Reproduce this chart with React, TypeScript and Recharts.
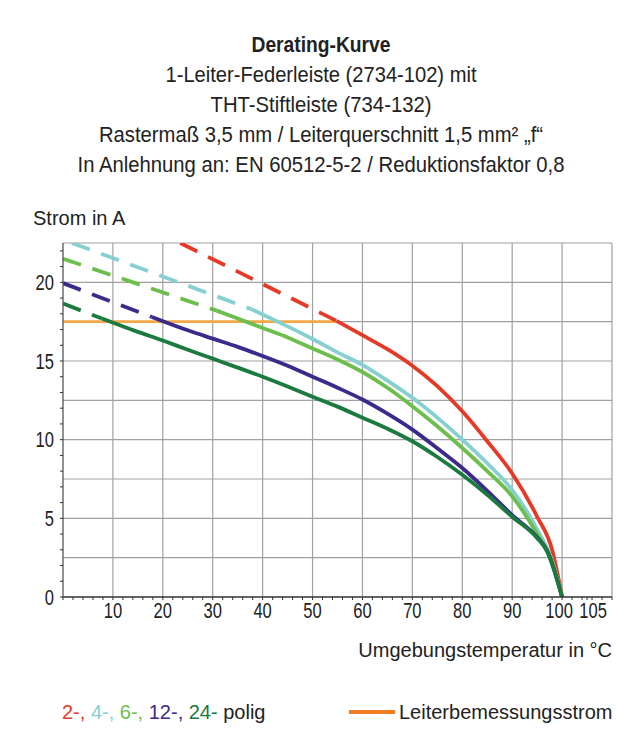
import React from 'react';
import { LineChart, Line, XAxis, YAxis, ReferenceLine } from 'recharts';

// Derating-Kurve 2734-102 / 734-132
const FONT = "'Liberation Sans', Arial, sans-serif";

const titleLines = [
  '1-Leiter-Federleiste (2734-102) mit',
  'THT-Stiftleiste (734-132)',
  'Rastermaß 3,5 mm / Leiterquerschnitt 1,5 mm² „f“',
  'In Anlehnung an: EN 60512-5-2 / Reduktionsfaktor 0,8',
];
// gemessene Breiten der Titelzeilen (px), Schrift ist schmal laufend
const titleWidths = [311, 221, 444, 487];

const xTicks = [0, 2, 4, 6, 8, 10, 12, 14, 16, 18, 20, 22, 24, 26, 28, 30, 32, 34, 36, 38, 40, 42, 44, 46, 48, 50, 52, 54, 56, 58, 60, 62, 64, 66, 68, 70, 72, 74, 76, 78, 80, 82, 84, 86, 88, 90, 92, 94, 96, 98, 100, 102, 104, 105, 106, 108, 110];
const xLabels = [10, 20, 30, 40, 50, 60, 70, 80, 90, 100, 105];
const yTicks = [0, 1, 2, 3, 4, 5, 6, 7, 8, 9, 10, 11, 12, 13, 14, 15, 16, 17, 18, 19, 20, 21, 22];
const yLabels = [0, 5, 10, 15, 20];
const gridX = [10, 20, 30, 40, 50, 60, 70, 80, 90, 100, 110];
const gridY = [2.5, 5, 7.5, 10, 12.5, 15, 17.5, 20, 22.5];

// 2-polig
const red2DashT = [23.5, 54.8];
const red2DashA = [22.5, 17.55];
const red2T = [54.8, 60, 65, 70, 75, 80, 85, 90, 95, 98, 100];
const red2A = [17.55, 16.64, 15.75, 14.7, 13.4, 11.8, 9.9, 7.85, 5.1, 3.0, 0];

// 4-polig
const cyan4DashT = [1.8, 37.7];
const cyan4DashA = [22.5, 18.3];
const cyan4T = [37.7, 40, 45, 50, 55, 60, 65, 70, 75, 80, 85, 90, 95, 98, 100];
const cyan4A = [18.3, 17.95, 17.2, 16.4, 15.55, 14.75, 13.75, 12.66, 11.4, 10.0, 8.5, 6.8, 4.3, 2.3, 0];

// 6-polig
const green6DashT = [0, 30.8];
const green6DashA = [21.5, 18.2];
const green6T = [30.8, 35, 40, 45, 50, 55, 60, 65, 70, 75, 80, 85, 90, 95, 98, 100];
const green6A = [18.2, 17.7, 17.1, 16.5, 15.8, 15.1, 14.3, 13.3, 12.13, 10.85, 9.47, 8.0, 6.4, 4.0, 2.2, 0];

// 12-polig
const blue12DashT = [0, 17.8];
const blue12DashA = [19.95, 17.8];
const blue12T = [17.8, 25, 30, 35, 40, 45, 50, 55, 60, 65, 70, 75, 80, 85, 90, 95, 97, 100];
const blue12A = [17.8, 16.95, 16.42, 15.9, 15.32, 14.7, 14.0, 13.3, 12.55, 11.65, 10.64, 9.45, 8.2, 6.75, 5.2, 3.8, 2.95, 0];

// 24-polig
const dgreen24DashT = [0, 7.8];
const dgreen24DashA = [18.65, 17.7];
const dgreen24T = [7.8, 15, 20, 25, 30, 35, 40, 45, 50, 55, 60, 65, 70, 75, 80, 85, 90, 95, 97, 100];
const dgreen24A = [17.7, 16.85, 16.3, 15.72, 15.15, 14.58, 14.0, 13.38, 12.73, 12.1, 11.4, 10.7, 9.9, 8.9, 7.77, 6.5, 5.1, 3.75, 2.9, 0];

// Leiterbemessungsstrom
const ratedT = [0, 54.8];
const ratedA = [17.5, 17.5];

const toPoints = (t: number[], a: number[]) => t.map((x, i) => ({ x, y: a[i] }));

const series = [
  { key: 'r', color: '#e53a27', dash: toPoints(red2DashT, red2DashA), solid: toPoints(red2T, red2A) },
  { key: 'c', color: '#86d0d2', dash: toPoints(cyan4DashT, cyan4DashA), solid: toPoints(cyan4T, cyan4A) },
  { key: 'g', color: '#6cbf4c', dash: toPoints(green6DashT, green6DashA), solid: toPoints(green6T, green6A) },
  { key: 'b', color: '#3b2a8c', dash: toPoints(blue12DashT, blue12DashA), solid: toPoints(blue12T, blue12A) },
  { key: 'd', color: '#1b7a3d', dash: toPoints(dgreen24DashT, dgreen24DashA), solid: toPoints(dgreen24T, dgreen24A) },
];

const DIGIT_W = 9.2;

const XTick = (props: any) => {
  const { x, y, payload } = props;
  const v = payload.value;
  if (!xLabels.includes(v)) return <g />;
  const s = String(v);
  const dx = v === 105 ? 6 : v === 100 ? -3 : 0;
  return (
    <text x={x + dx} y={y} dy="0.71em" textAnchor="middle" fontSize={21.5} fontFamily={FONT} fill="#222"
      textLength={s.length * DIGIT_W} lengthAdjust="spacingAndGlyphs">
      {s}
    </text>
  );
};

const YTick = (props: any) => {
  const { x, y, payload } = props;
  const v = payload.value;
  if (!yLabels.includes(v)) return <g />;
  const s = String(v);
  return (
    <text x={x} y={y} dy="0.355em" textAnchor="end" fontSize={21.5} fontFamily={FONT} fill="#222"
      textLength={s.length * DIGIT_W} lengthAdjust="spacingAndGlyphs">
      {s}
    </text>
  );
};

export default function App() {
  return (
    <div style={{ position: 'absolute', left: 0, top: 0, width: 642, height: 754, background: '#fff' }}>
      <LineChart width={642} height={754} margin={{ top: 243, right: 30, bottom: 127, left: 23 }}>
        {gridX.map((v) => (
          <ReferenceLine key={'gx' + v} x={v} stroke="#a0a0a0" strokeWidth={1.2} />
        ))}
        {gridY.map((v) => (
          <ReferenceLine key={'gy' + v} y={v} stroke="#a0a0a0" strokeWidth={1.2} />
        ))}
        <XAxis
          type="number"
          dataKey="x"
          domain={[0, 110]}
          ticks={xTicks}
          interval={0}
          allowDataOverflow
          height={30}
          tickSize={3}
          tickMargin={3}
          tick={<XTick />}
          axisLine={{ stroke: '#333', strokeWidth: 1.3 }}
          tickLine={{ stroke: '#333' }}
        />
        <YAxis
          type="number"
          dataKey="y"
          domain={[0, 22.5]}
          ticks={yTicks}
          interval={0}
          allowDataOverflow
          width={40}
          tickSize={3}
          tickMargin={6}
          tick={<YTick />}
          axisLine={{ stroke: '#555', strokeWidth: 1.3 }}
          tickLine={{ stroke: '#333' }}
        />
        <Line
          data={toPoints(ratedT, ratedA)}
          dataKey="y"
          stroke="#f3a847"
          strokeWidth={2.6}
          dot={false}
          isAnimationActive={false}
        />
        {series.map((s) => (
          <Line
            key={s.key + 'd'}
            data={s.dash}
            dataKey="y"
            type="linear"
            stroke={s.color}
            strokeWidth={3.8}
            strokeDasharray="19 12"
            dot={false}
            isAnimationActive={false}
          />
        ))}
        {series.map((s) => (
          <Line
            key={s.key + 's'}
            data={s.solid}
            dataKey="y"
            type="monotone"
            stroke={s.color}
            strokeWidth={3.8}
            dot={false}
            isAnimationActive={false}
          />
        ))}
      </LineChart>
      <svg width={642} height={754} style={{ position: 'absolute', left: 0, top: 0, pointerEvents: 'none' }}>
        <g fontFamily={FONT} fontSize={20} fill="#222">
          <text x={321} y={52} textAnchor="middle" fontWeight="bold" fontSize={22.5} textLength={139} lengthAdjust="spacingAndGlyphs">
            Derating-Kurve
          </text>
          {titleLines.map((t, i) => (
            <text key={i} x={321} y={82 + i * 30} textAnchor="middle" fontSize={22.5} textLength={titleWidths[i]} lengthAdjust="spacingAndGlyphs">
              {t}
            </text>
          ))}
          <text x={33} y={225}>Strom in A</text>
          <text x={612} y={657} textAnchor="end">Umgebungstemperatur in °C</text>
          <text x={62} y={719}>
            <tspan fill="#e53a27">2-, </tspan>
            <tspan fill="#86d0d2">4-, </tspan>
            <tspan fill="#6cbf4c">6-, </tspan>
            <tspan fill="#3b2a8c">12-, </tspan>
            <tspan fill="#1b7a3d">24- </tspan>
            <tspan>polig</tspan>
          </text>
          <line x1={349} x2={395} y1={712} y2={712} stroke="#f07c1f" strokeWidth={4} />
          <text x={399} y={719}>Leiterbemessungsstrom</text>
        </g>
      </svg>
    </div>
  );
}
